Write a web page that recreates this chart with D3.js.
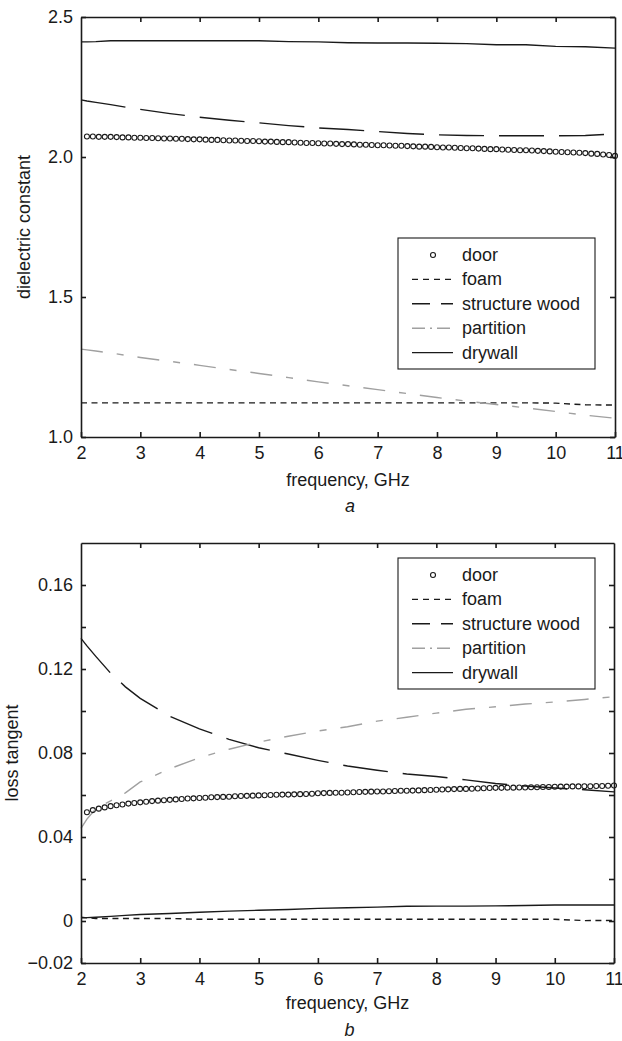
<!DOCTYPE html>
<html>
<head>
<meta charset="utf-8">
<script src="https://cdn.jsdelivr.net/npm/d3@7"></script>
<style>
  body { margin: 0; background: #fff; }
  svg { display: block; font-family: 'Liberation Sans', Arial, sans-serif; }
</style>
</head>
<body>
<script>
// frequency grids, GHz
const freqLine = [2, 2.1, 2.25, 2.5, 2.75, 3, 3.5, 4, 4.5, 5, 5.5, 6, 6.5, 7, 7.5, 8, 8.5, 9, 9.5, 10, 10.5, 11]
const freqDoor = [
  2.1, 2.2, 2.3, 2.4, 2.5, 2.6, 2.7, 2.8, 2.9, 3.0,
  3.1, 3.2, 3.3, 3.4, 3.5, 3.6, 3.7, 3.8, 3.9, 4.0,
  4.1, 4.2, 4.3, 4.4, 4.5, 4.6, 4.7, 4.8, 4.9, 5.0,
  5.1, 5.2, 5.3, 5.4, 5.5, 5.6, 5.7, 5.8, 5.9, 6.0,
  6.1, 6.2, 6.3, 6.4, 6.5, 6.6, 6.7, 6.8, 6.9, 7.0,
  7.1, 7.2, 7.3, 7.4, 7.5, 7.6, 7.7, 7.8, 7.9, 8.0,
  8.1, 8.2, 8.3, 8.4, 8.5, 8.6, 8.7, 8.8, 8.9, 9.0,
  9.1, 9.2, 9.3, 9.4, 9.5, 9.6, 9.7, 9.8, 9.9, 10.0,
  10.1, 10.2, 10.3, 10.4, 10.5, 10.6, 10.7, 10.8, 10.9, 11.0
]

// (a) dielectric constant
const epsDoor = [
  2.073, 2.073, 2.072, 2.072, 2.072, 2.071, 2.070, 2.070, 2.069, 2.069,
  2.068, 2.068, 2.067, 2.066, 2.066, 2.065, 2.065, 2.064, 2.063, 2.063,
  2.062, 2.061, 2.061, 2.060, 2.059, 2.059, 2.058, 2.057, 2.057, 2.056,
  2.055, 2.055, 2.054, 2.053, 2.053, 2.052, 2.051, 2.050, 2.050, 2.049,
  2.048, 2.048, 2.047, 2.046, 2.046, 2.045, 2.044, 2.044, 2.043, 2.042,
  2.042, 2.041, 2.040, 2.040, 2.039, 2.038, 2.037, 2.037, 2.036, 2.035,
  2.034, 2.034, 2.033, 2.032, 2.031, 2.031, 2.030, 2.029, 2.028, 2.028,
  2.027, 2.026, 2.025, 2.024, 2.024, 2.023, 2.022, 2.021, 2.020, 2.019,
  2.018, 2.017, 2.016, 2.015, 2.014, 2.012, 2.011, 2.009, 2.007, 2.004
]
const epsFoam = [1.122, 1.122, 1.122, 1.122, 1.122, 1.122, 1.122, 1.122, 1.122, 1.122, 1.122, 1.122, 1.122, 1.122, 1.122, 1.122, 1.122, 1.122, 1.122, 1.121, 1.115, 1.114]
const epsWood = [2.204, 2.200, 2.195, 2.187, 2.178, 2.170, 2.155, 2.142, 2.131, 2.122, 2.112, 2.104, 2.098, 2.091, 2.084, 2.079, 2.077, 2.076, 2.076, 2.076, 2.077, 2.082]
const epsPartition = [1.314, 1.311, 1.307, 1.300, 1.292, 1.284, 1.270, 1.256, 1.241, 1.227, 1.212, 1.197, 1.183, 1.169, 1.155, 1.141, 1.128, 1.116, 1.104, 1.091, 1.078, 1.067]
const epsDrywall = [2.411, 2.411, 2.412, 2.415, 2.415, 2.415, 2.415, 2.415, 2.415, 2.415, 2.412, 2.411, 2.408, 2.407, 2.407, 2.406, 2.405, 2.401, 2.401, 2.395, 2.394, 2.389]

// (b) loss tangent
const tanDoor = [
  0.0518, 0.0528, 0.0535, 0.0541, 0.0547, 0.0551, 0.0555, 0.0559, 0.0562, 0.0565,
  0.0568, 0.0571, 0.0573, 0.0575, 0.0577, 0.0579, 0.0581, 0.0583, 0.0584, 0.0586,
  0.0587, 0.0589, 0.0590, 0.0591, 0.0592, 0.0594, 0.0595, 0.0596, 0.0597, 0.0598,
  0.0599, 0.0600, 0.0601, 0.0602, 0.0602, 0.0603, 0.0604, 0.0605, 0.0606, 0.0608,
  0.0609, 0.0610, 0.0611, 0.0611, 0.0612, 0.0613, 0.0614, 0.0615, 0.0616, 0.0617,
  0.0617, 0.0618, 0.0619, 0.0620, 0.0620, 0.0621, 0.0622, 0.0623, 0.0624, 0.0625,
  0.0626, 0.0627, 0.0628, 0.0629, 0.0629, 0.0630, 0.0631, 0.0632, 0.0633, 0.0634,
  0.0634, 0.0635, 0.0635, 0.0636, 0.0636, 0.0637, 0.0637, 0.0638, 0.0638, 0.0639,
  0.0640, 0.0640, 0.0641, 0.0641, 0.0642, 0.0642, 0.0643, 0.0643, 0.0644, 0.0645
]
const tanFoam = [0.0018, 0.0015, 0.0012, 0.0012, 0.0012, 0.0012, 0.0012, 0.0008, 0.0008, 0.0008, 0.0008, 0.0008, 0.0008, 0.0008, 0.0008, 0.0008, 0.0008, 0.0008, 0.0008, 0.0008, 0.0002, 0.0003]
const tanWood = [0.1346, 0.1310, 0.1260, 0.1180, 0.1115, 0.1060, 0.0975, 0.0915, 0.0865, 0.0825, 0.0795, 0.0765, 0.0738, 0.0718, 0.0700, 0.0688, 0.0672, 0.0655, 0.0643, 0.0633, 0.0625, 0.0615]
const tanPartition = [0.0441, 0.0485, 0.0535, 0.0572, 0.0610, 0.0662, 0.0725, 0.0778, 0.0818, 0.0852, 0.0880, 0.0905, 0.0925, 0.0952, 0.0970, 0.0990, 0.1008, 0.1020, 0.1033, 0.1043, 0.1055, 0.1068]
const tanDrywall = [0.0015, 0.0016, 0.0018, 0.0022, 0.0027, 0.0031, 0.0036, 0.0042, 0.0047, 0.0051, 0.0055, 0.0060, 0.0063, 0.0066, 0.0070, 0.0071, 0.0071, 0.0072, 0.0074, 0.0076, 0.0076, 0.0076]

// ticks and labels
const xTicks = [2, 3, 4, 5, 6, 7, 8, 9, 10, 11]
const epsTicks = [1.0, 1.5, 2.0, 2.5]
const tanTicks = [-0.02, 0, 0.02, 0.04, 0.06, 0.08, 0.10, 0.12, 0.14, 0.16]
const tanLabels = [-0.02, 0, 0.04, 0.08, 0.12, 0.16]
const legendNames = ['door', 'foam', 'structure wood', 'partition', 'drywall']

const ink = '#1a1a1a'
const fontSize = 18
const styles = {
  foam: { stroke: ink, dash: '6,4.5', legendDash: '6,5' },
  wood: { stroke: ink, dash: '45,15', legendDash: '18,11' },
  partition: { stroke: '#a0a0a0', dash: '22,14,7,14', legendDash: '13,5,2,5' },
  drywall: { stroke: ink, dash: null, legendDash: null }
}
const lineKeys = ['foam', 'wood', 'partition', 'drywall']

const svg = d3.select('body').append('svg')
  .attr('width', 622)
  .attr('height', 1041)
  .style('background', '#fff')

function styleAxis (sel) {
  sel.attr('font-size', fontSize).attr('font-family', null)
  sel.selectAll('path, line').attr('stroke', ink).attr('stroke-width', 1.6)
  sel.selectAll('text').attr('fill', ink)
}

function drawPanel (p) {
  const x = d3.scaleLinear().domain([2, 11]).range([p.left, p.right])
  const y = d3.scaleLinear().domain(p.yDomain).range([p.bottom, p.top])
  const g = svg.append('g')

  const line = d3.line()
    .x((d, i) => x(freqLine[i]))
    .y(d => y(d))

  // data lines
  lineKeys.forEach(k => {
    g.append('path')
      .datum(p.series[k])
      .attr('d', line)
      .attr('fill', 'none')
      .attr('stroke', styles[k].stroke)
      .attr('stroke-width', 1.4)
      .attr('stroke-dasharray', styles[k].dash)
  })

  // door markers
  g.append('g')
    .selectAll('circle')
    .data(p.door)
    .join('circle')
    .attr('cx', (d, i) => x(freqDoor[i]))
    .attr('cy', d => y(d))
    .attr('r', 2.5)
    .attr('fill', 'none')
    .attr('stroke', ink)
    .attr('stroke-width', 1.1)

  // frame: bottom, top, left, right
  g.append('g')
    .attr('transform', `translate(0,${p.bottom})`)
    .call(d3.axisBottom(x).tickValues(xTicks).tickSizeInner(-5).tickSizeOuter(0).tickPadding(9).tickFormat(d3.format('d')))
    .call(styleAxis)
  g.append('g')
    .attr('transform', `translate(0,${p.top})`)
    .call(d3.axisTop(x).tickValues(xTicks.slice(1, -1)).tickSizeInner(-5).tickSizeOuter(0).tickFormat(''))
    .call(styleAxis)
  g.append('g')
    .attr('transform', `translate(${p.left},0)`)
    .call(d3.axisLeft(y).tickValues(p.yTicks).tickSizeInner(-5).tickSizeOuter(0).tickPadding(8).tickFormat(p.yFormat))
    .call(styleAxis)
  g.append('g')
    .attr('transform', `translate(${p.right},0)`)
    .call(d3.axisRight(y).tickValues(p.yTicks).tickSizeInner(-5).tickSizeOuter(0).tickFormat(''))
    .call(styleAxis)

  // titles
  g.append('text')
    .attr('x', (p.left + p.right) / 2)
    .attr('y', p.xTitleY)
    .attr('text-anchor', 'middle')
    .attr('font-size', fontSize)
    .attr('fill', ink)
    .text('frequency, GHz')
  g.append('text')
    .attr('transform', `translate(${p.yTitleX},${(p.top + p.bottom) / 2}) rotate(-90)`)
    .attr('text-anchor', 'middle')
    .attr('font-size', fontSize)
    .attr('fill', ink)
    .text(p.yTitle)
  g.append('text')
    .attr('x', (p.left + p.right) / 2 + 2)
    .attr('y', p.tagY)
    .attr('text-anchor', 'middle')
    .attr('font-size', fontSize)
    .attr('font-style', 'italic')
    .attr('fill', ink)
    .text(p.tag)

  // legend
  const lg = g.append('g').attr('transform', `translate(${p.legend.x},${p.legend.y})`)
  lg.append('rect')
    .attr('width', 197)
    .attr('height', 131)
    .attr('fill', '#fff')
    .attr('stroke', ink)
    .attr('stroke-width', 1.1)
  const keys = ['door'].concat(lineKeys)
  keys.forEach((k, i) => {
    const base = 23 + i * 24.4
    const mid = base - 6
    if (k === 'door') {
      lg.append('circle')
        .attr('cx', 35).attr('cy', mid).attr('r', 2.5)
        .attr('fill', 'none').attr('stroke', ink).attr('stroke-width', 1.1)
    } else {
      lg.append('line')
        .attr('x1', 14).attr('x2', 55).attr('y1', mid).attr('y2', mid)
        .attr('stroke', styles[k].stroke)
        .attr('stroke-width', 1.4)
        .attr('stroke-dasharray', styles[k].legendDash)
    }
    lg.append('text')
      .attr('x', 64)
      .attr('y', base)
      .attr('font-size', fontSize)
      .attr('fill', ink)
      .text(legendNames[i])
  })
}

drawPanel({
  left: 81, right: 615, top: 17, bottom: 437,
  yDomain: [1, 2.5],
  yTicks: epsTicks,
  yFormat: d3.format('.1f'),
  door: epsDoor,
  series: { foam: epsFoam, wood: epsWood, partition: epsPartition, drywall: epsDrywall },
  xTitleY: 486, yTitleX: 30, yTitle: 'dielectric constant',
  tag: 'a', tagY: 512,
  legend: { x: 398, y: 238 }
})

drawPanel({
  left: 81, right: 614, top: 543, bottom: 963,
  yDomain: [-0.02, 0.18],
  yTicks: tanTicks,
  yFormat: d => !tanLabels.includes(d) ? '' : d === 0 ? '0' : d3.format('.2f')(d),
  door: tanDoor,
  series: { foam: tanFoam, wood: tanWood, partition: tanPartition, drywall: tanDrywall },
  xTitleY: 1009, yTitleX: 18, yTitle: 'loss tangent',
  tag: 'b', tagY: 1036,
  legend: { x: 398, y: 558 }
})
</script>
</body>
</html>
